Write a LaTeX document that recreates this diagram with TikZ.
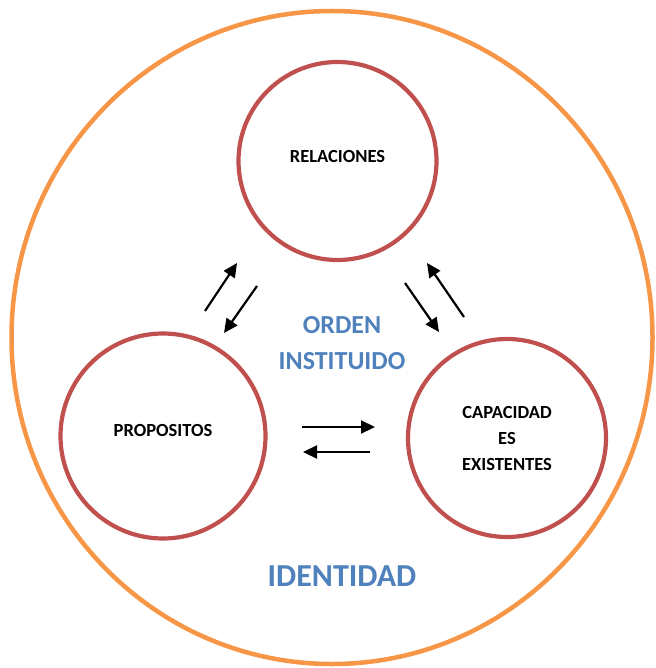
\documentclass[tikz,border=0pt]{standalone}
\usepackage{fontspec}
\setmainfont{Carlito}
\usepackage{tikz}
\usetikzlibrary{positioning, arrows.meta}
\definecolor{ringorange}{HTML}{F79646}
\definecolor{ringred}{HTML}{C0504D}
\definecolor{textblue}{HTML}{4F81BD}

\begin{document}
\begin{tikzpicture}[x=1pt,y=-1pt,>={Triangle[length=14pt,width=13pt]},font=\bfseries\fontsize{18.5}{26}\selectfont]
	
	\tikzstyle{ring}=[line width=4.2pt,draw=ringred,circle,inner sep=0pt,align=center]
	\tikzstyle{arr}=[->,line width=2.2pt]
	\tikzstyle{blue}=[text=textblue,inner sep=0pt]
	
	\useasboundingbox (0,0) rectangle (655,668);
	\draw[line width=4.5pt,draw=ringorange] (332,337.5) ellipse [x radius=320.5, y radius=326.5];
	
	\node[ring,minimum size=198pt,text depth=10pt] (rel) at (337.5,161) {RELACIONES};
	\node[ring,minimum size=205pt,text depth=12pt] (prop) at (163,436) {PROPOSITOS};
	\node[ring,minimum size=198pt] (cap) at (507,438) {CAPACIDAD\\ES\\EXISTENTES};
	
	\node[blue,font=\bfseries\fontsize{26}{30}\selectfont] (orden) at (342,325) {ORDEN};
	\node[blue,font=\bfseries\fontsize{26}{30}\selectfont] (inst) at (342,361) {INSTITUIDO};
	\node[blue,font=\bfseries\fontsize{32}{36}\selectfont] (ident) at (342,576) {IDENTIDAD};
	
	\coordinate (pr1) at (205,311);
	\coordinate (pr2) at (237,263);
	\coordinate (rp1) at (257,286);
	\coordinate (rp2) at (224,333);
	\coordinate (rc1) at (405,283);
	\coordinate (rc2) at (439,332);
	\coordinate (cr1) at (464,317);
	\coordinate (cr2) at (427,263);
	\coordinate (pc1) at (302,427);
	\coordinate (pc2) at (375,427);
	\coordinate (cp1) at (370,452);
	\coordinate (cp2) at (303,452);
	
	\draw[arr] (pr1) -- (pr2);
	\draw[arr] (rp1) -- (rp2);
	\draw[arr] (rc1) -- (rc2);
	\draw[arr] (cr1) -- (cr2);
	\draw[arr] (pc1) -- (pc2);
	\draw[arr] (cp1) -- (cp2);
	\end{tikzpicture}
\end{document}
